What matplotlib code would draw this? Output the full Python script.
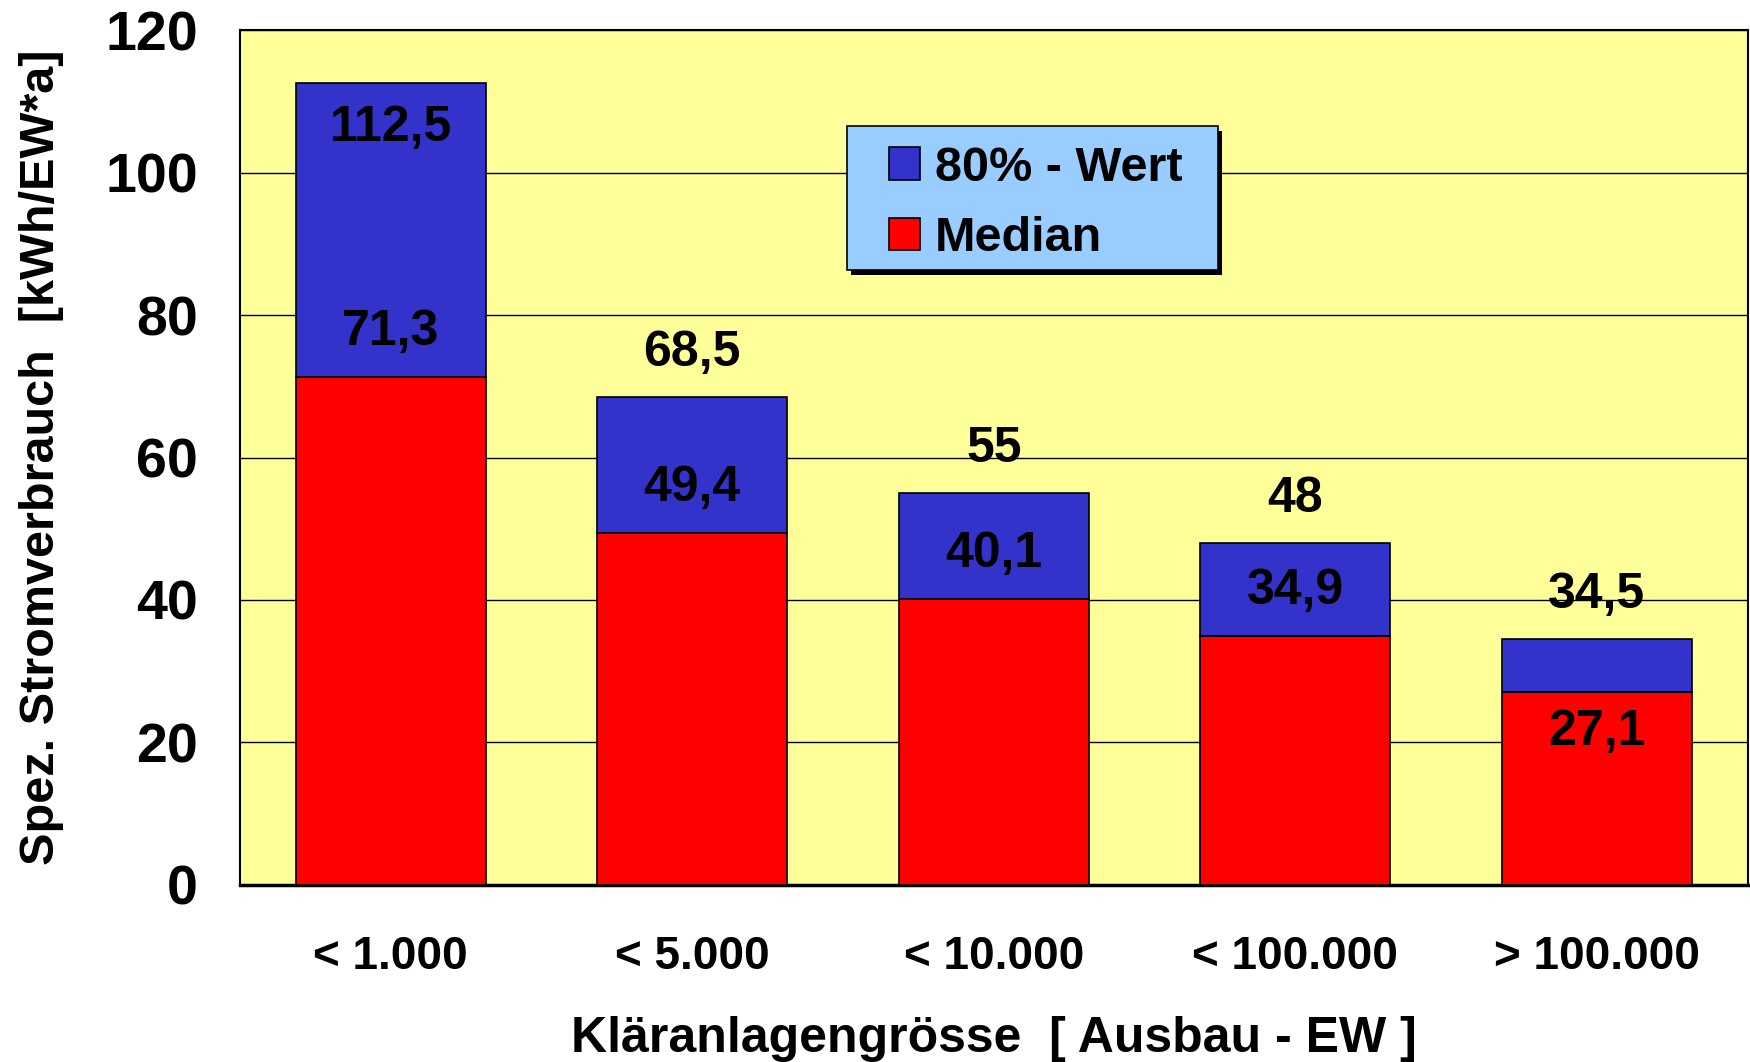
import matplotlib.pyplot as plt
import numpy as np
from matplotlib.patches import Rectangle

plt.rcParams["font.family"] = ["Liberation Sans", "DejaVu Sans"]
plt.rcParams["font.weight"] = "bold"
plt.rcParams["axes.labelweight"] = "bold"

categories = ["< 1.000", "< 5.000", "< 10.000", "< 100.000", "> 100.000"]
median = [71.3, 49.4, 40.1, 34.9, 27.1]
wert80 = [112.5, 68.5, 55.0, 48.0, 34.5]
median_txt = ["71,3", "49,4", "40,1", "34,9", "27,1"]
wert80_txt = ["112,5", "68,5", "55", "48", "34,5"]

RED = "#FF0000"
BLUE = "#3333CC"

fig = plt.figure(figsize=(17.5, 10.62), dpi=100)
ax = fig.add_axes([0.137, 0.1667, 0.8617, 0.805])
ax.set_facecolor("#FFFF99")

x = np.arange(len(categories))
width = 0.63
upper = np.array(wert80) - np.array(median)
ax.bar(x, median, width, color=RED, edgecolor="black", linewidth=1.2, zorder=3)
ax.bar(x, upper, width, bottom=median, color=BLUE, edgecolor="black", linewidth=1.2, zorder=3)

for i in range(len(categories)):
    # 80% value: above the bar, or inside if it would leave the axes
    if wert80[i] > 105:
        ax.text(x[i], wert80[i] - 6.3, wert80_txt[i], ha="center", va="center", fontsize=36, zorder=4)
    else:
        ax.text(x[i], wert80[i] + 6.2, wert80_txt[i], ha="center", va="center", fontsize=36, zorder=4)
    # median: inside the blue part, or inside the red part if blue is too thin
    if wert80[i] - median[i] < 10:
        ax.text(x[i], median[i] - 5.6, median_txt[i], ha="center", va="center", fontsize=36, zorder=4)
    else:
        ax.text(x[i], median[i] + 6.3, median_txt[i], ha="center", va="center", fontsize=36, zorder=4)

ax.set_xlim(-0.5, len(categories) - 0.5)
ax.set_ylim(0, 120)
ax.set_yticks(np.arange(0, 121, 20))
ax.grid(axis="y", color="black", linewidth=1.0, zorder=1)
ax.set_xticks(x)
ax.set_xticklabels(categories, fontsize=33)
ax.tick_params(axis="y", labelsize=40, length=0, pad=30)
ax.tick_params(axis="x", length=0, pad=36)
for s in ax.spines.values():
    s.set_linewidth(1.5)
ax.spines["bottom"].set_linewidth(2.5)

ax.set_xlabel("Kläranlagengrösse  [ Ausbau - EW ]", fontsize=36, labelpad=27)
ax.set_ylabel("Spez. Stromverbrauch  [kWh/EW*a]", fontsize=35, labelpad=30)

# legend box with hard black drop shadow
box = (0.4025, 0.719, 0.246, 0.1687)
ax.add_patch(Rectangle((box[0] + 0.003, box[1] - 0.0055), box[2], box[3],
                       transform=ax.transAxes, facecolor="black", edgecolor="none", zorder=5))
ax.add_patch(Rectangle((box[0], box[1]), box[2], box[3], transform=ax.transAxes,
                       facecolor="#99CCFF", edgecolor="black", linewidth=1.2, zorder=5))
handles = [Rectangle((0, 0), 1, 1, facecolor=BLUE, edgecolor="black", linewidth=1.2),
           Rectangle((0, 0), 1, 1, facecolor=RED, edgecolor="black", linewidth=1.2)]
leg = ax.legend(handles, ["80% - Wert", "Median"], loc="upper left",
                bbox_to_anchor=(0.4304, 0.8648), borderaxespad=0, borderpad=0,
                fontsize=35, frameon=False, handlelength=0.64, handleheight=0.64,
                handletextpad=0.31, labelspacing=0.53)
leg.set_zorder(6)

fig.savefig("out.png", dpi=100)
